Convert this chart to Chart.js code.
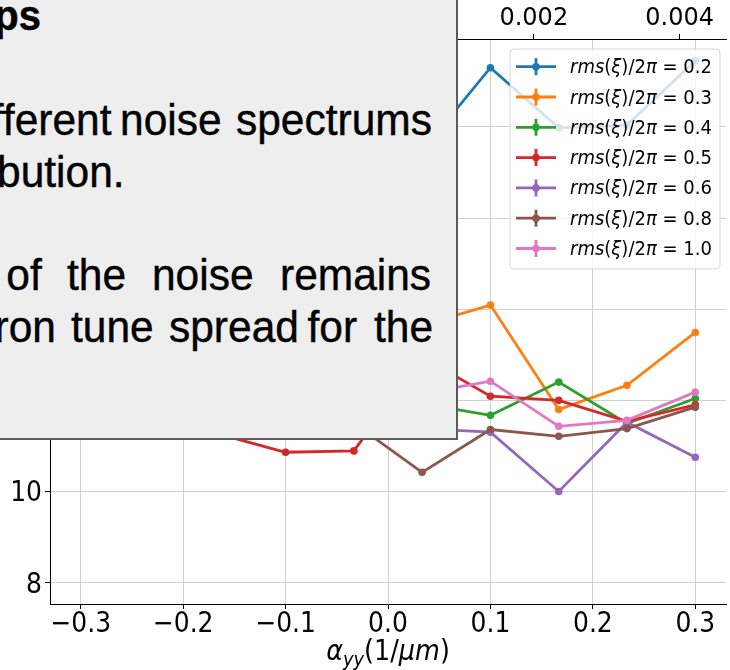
<!DOCTYPE html>
<html>
<head>
<meta charset="utf-8">
<script src="https://cdn.jsdelivr.net/npm/chart.js@4.4.0/dist/chart.umd.min.js"></script>
<style>
  html, body { margin: 0; padding: 0; background: #fff; overflow: hidden; }
  #wrap { position: relative; width: 730px; height: 670px; }
  #plot, #note { position: absolute; left: 0; top: 0; }
  #note text { font-family: 'Liberation Sans', Arial, sans-serif; font-size: 42.5px; fill: #000; stroke: #000; stroke-width: 0.4px; }
</style>
</head>
<body>
<div id="wrap">
  <canvas id="plot" width="730" height="670"></canvas>
  <svg id="note" width="730" height="670">
    <rect x="-10" y="-10" width="467" height="449" fill="#eeeeee" stroke="#5a5a5a" stroke-width="2"/>
    <g transform="translate(0,30) scale(1,1.04)">
      <text x="41" text-anchor="end" font-weight="bold" style="font-size:40px">ps</text>
    </g>
    <g transform="translate(0,135) scale(1,1.04)">
      <text x="111.5" text-anchor="end">fferent</text>
      <text x="120">noise</text>
      <text x="236">spectrums</text>
    </g>
    <g transform="translate(0,187) scale(1,1.04)">
      <text x="-3">bution.</text>
    </g>
    <g transform="translate(0,290) scale(1,1.04)">
      <text x="6.3">of</text>
      <text x="67">the</text>
      <text x="152">noise</text>
      <text x="280">remains</text>
    </g>
    <g transform="translate(0,342) scale(1,1.04)">
      <text x="56" text-anchor="end">ron</text>
      <text x="71">tune</text>
      <text x="169">spread</text>
      <text x="307.5">for</text>
      <text x="374">the</text>
    </g>
  </svg>
</div>
<script>
// tune spread vs. detuning coefficient, one curve per noise rms
const alphaYY = [-0.3, -0.2333, -0.1667, -0.1, -0.0333, 0.0333, 0.1, 0.1667, 0.2333, 0.3];
const rmsLevels = ['0.2', '0.3', '0.4', '0.5', '0.6', '0.8', '1.0'];

const spreadRms02 = [18.2, 18.8, 17.6, 18.5, 17.9, 17.47, 19.3, 17.98, 18.04, 19.45];
const spreadRms03 = [14.5, 13.8, 14.2, 13.5, 14.0, 13.65, 14.09, 11.80, 12.33, 13.49];
const spreadRms04 = [12.3, 12.0, 12.6, 11.9, 12.2, 11.93, 11.67, 12.40, 11.49, 12.04];
const spreadRms05 = [12.1, 11.9, 11.27, 10.86, 10.89, 12.95, 12.09, 12.00, 11.54, 11.90];
const spreadRms06 = [12.0, 11.6, 12.3, 11.8, 11.6, 11.38, 11.30, 10.00, 11.52, 10.75];
const spreadRms08 = [12.6, 12.2, 11.9, 12.4, 11.50, 10.42, 11.36, 11.21, 11.38, 11.85];
const spreadRms10 = [12.4, 12.1, 12.7, 12.2, 12.5, 12.15, 12.42, 11.43, 11.56, 12.18];

const xTicks = [-0.3, -0.2, -0.1, 0.0, 0.1, 0.2, 0.3];
const yTicks = [8, 10, 12, 14, 16, 18];
const topTicks = [-0.004, -0.002, 0.0, 0.002, 0.004];
const alphaToTop = 0.01405;   // secondary axis = alpha * factor

const xRange = [-0.33, 0.33];
const yRange = [7.53, 19.93];

const palette = ['#1f77b4', '#ff7f0e', '#2ca02c', '#d62728', '#9467bd', '#8c564b', '#e377c2'];
const series = [spreadRms02, spreadRms03, spreadRms04, spreadRms05, spreadRms06, spreadRms08, spreadRms10];

const FONT = "'DejaVu Sans', sans-serif";
const STRETCH = 1.12;   // axis text is a bit taller than wide

const datasets = series.map((vals, i) => ({
  label: `rms(ξ)/2π = ${rmsLevels[i]}`,
  data: vals.map((v, j) => ({ x: alphaYY[j], y: v })),
  borderColor: palette[i],
  backgroundColor: palette[i],
  pointBackgroundColor: palette[i],
  pointBorderWidth: 0,
  pointRadius: 3.8,
  borderWidth: 2.8,
  tension: 0,
  order: series.length - i,   // later curves on top
}));

// italic for letters, upright for everything else (mathtext-ish)
function mathRuns(str) {
  return str.match(/[A-Za-zα-ω]+|[^A-Za-zα-ω]+/g).map(t => ({ t, it: /[A-Za-zα-ω]/.test(t) }));
}

function drawRuns(ctx, runs, x, y, size) {
  let cx = x;
  for (const r of runs) {
    const sz = r.sub ? size * 0.7 : size;
    ctx.font = `${r.it ? 'italic ' : ''}${sz}px ${FONT}`;
    ctx.fillText(r.t, cx, y + (r.sub ? size * 0.22 : 0));
    cx += ctx.measureText(r.t).width;
  }
  return cx - x;
}

function runsWidth(ctx, runs, size) {
  let w = 0;
  for (const r of runs) {
    const sz = r.sub ? size * 0.7 : size;
    ctx.font = `${r.it ? 'italic ' : ''}${sz}px ${FONT}`;
    w += ctx.measureText(r.t).width;
  }
  return w;
}

// text drawn around its baseline point, stretched vertically
function tallText(ctx, str, x, y, align) {
  ctx.save();
  ctx.translate(x, y);
  ctx.scale(1, STRETCH);
  ctx.textAlign = align;
  ctx.fillText(str, 0, 0);
  ctx.restore();
}

const overlay = {
  id: 'overlay',
  afterDraw(chart) {
    const ctx = chart.ctx;
    const { x, y } = chart.scales;
    ctx.save();
    ctx.fillStyle = '#000';
    ctx.textBaseline = 'alphabetic';

    // bottom and left tick labels
    ctx.font = `25px ${FONT}`;
    x.ticks.forEach(t => tallText(ctx, fmtX(t.value), x.getPixelForValue(t.value), 632, 'center'));
    y.ticks.forEach(t => tallText(ctx, String(t.value), 42, y.getPixelForValue(t.value) + 10, 'right'));

    // x axis label
    const title = [
      { t: 'α', it: true }, { t: 'yy', it: true, sub: true },
      { t: '(1/', it: false }, { t: 'μm', it: true }, { t: ')', it: false },
    ];
    const cx = x.getPixelForValue(0);
    const tw = runsWidth(ctx, title, 25.5);
    ctx.save();
    ctx.translate(cx - tw / 2, 660);
    ctx.scale(1, STRETCH);
    drawRuns(ctx, title, 0, 0, 25.5);
    ctx.restore();

    // legend, upper right
    const lx = 510, ly = 49, lw = 210, lh = 220;
    ctx.beginPath();
    ctx.roundRect(lx, ly, lw, lh, 4);
    ctx.fillStyle = 'rgba(255,255,255,0.8)';
    ctx.fill();
    ctx.strokeStyle = 'rgba(204,204,204,0.8)';
    ctx.lineWidth = 1;
    ctx.stroke();

    chart.data.datasets.forEach((ds, i) => {
      const ry = 66.7 + i * 30.3;
      ctx.strokeStyle = ds.borderColor;
      ctx.lineWidth = 2.8;
      ctx.beginPath();
      ctx.moveTo(516, ry); ctx.lineTo(556, ry);
      ctx.moveTo(536, ry - 8.5); ctx.lineTo(536, ry + 8.5);
      ctx.stroke();
      ctx.fillStyle = ds.borderColor;
      ctx.beginPath();
      ctx.arc(536, ry, 3.8, 0, Math.PI * 2);
      ctx.fill();
      ctx.fillStyle = '#000';
      ctx.save();
      ctx.translate(570, ry + 6.5);
      ctx.scale(1, 1.06);
      drawRuns(ctx, mathRuns(ds.label), 0, 0, 18);
      ctx.restore();
    });
    ctx.restore();
  },
};

const fmtX = v => v.toFixed(1).replace('-', '\u2212');

new Chart(document.getElementById('plot'), {
  type: 'line',
  data: { datasets },
  plugins: [overlay],
  options: {
    responsive: false,
    animation: false,
    devicePixelRatio: 1,
    layout: { padding: 0 },
    plugins: { legend: { display: false }, tooltip: { enabled: false } },
    scales: {
      x: {
        type: 'linear',
        position: 'bottom',
        min: xRange[0], max: xRange[1],
        afterBuildTicks: s => { s.ticks = xTicks.map(value => ({ value })); },
        afterFit: s => { s.height = 66; },
        ticks: { display: false, callback: fmtX },
        grid: { color: '#d0d0d0', lineWidth: 1, tickColor: '#000', tickLength: 5, tickWidth: 1 },
        border: { color: '#000', width: 1 },
      },
      x2: {
        type: 'linear',
        position: 'top',
        min: xRange[0] * alphaToTop, max: xRange[1] * alphaToTop,
        afterBuildTicks: s => { s.ticks = topTicks.map(value => ({ value })); },
        afterFit: s => { s.height = 39; },
        ticks: { color: '#000', font: { family: FONT, size: 24 }, padding: 1, maxRotation: 0, autoSkip: false, callback: v => v.toFixed(3).replace('-', '\u2212') },
        grid: { drawOnChartArea: false, tickColor: '#000', tickLength: 5, tickWidth: 1 },
        border: { color: '#000', width: 1 },
      },
      y: {
        type: 'linear',
        min: yRange[0], max: yRange[1],
        afterBuildTicks: s => { s.ticks = yTicks.map(value => ({ value })); },
        afterFit: s => { s.width = 50; },
        ticks: { display: false },
        grid: { color: '#d0d0d0', lineWidth: 1, tickColor: '#000', tickLength: 5, tickWidth: 1 },
        border: { color: '#000', width: 1 },
      },
    },
  },
});
</script>
</body>
</html>
